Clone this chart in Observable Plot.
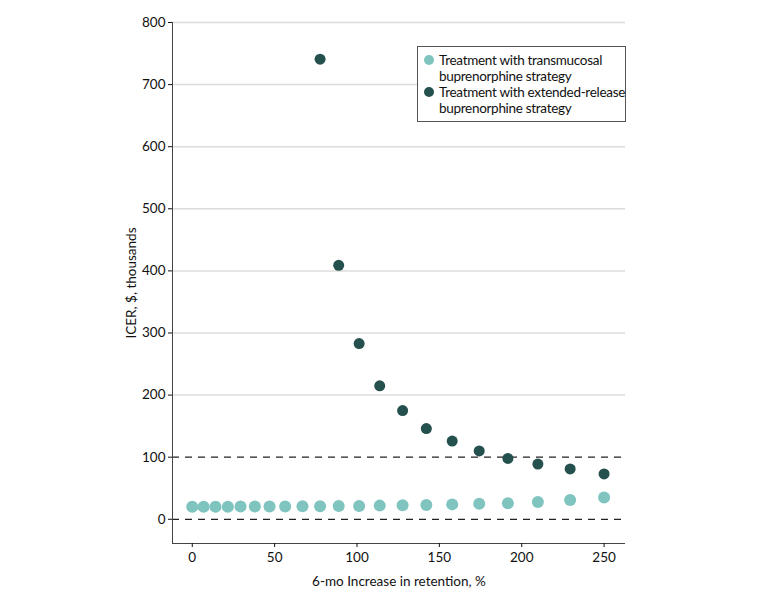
<!DOCTYPE html>
<html>
<head>
<meta charset="utf-8">
<script src="https://cdn.jsdelivr.net/npm/d3@7"></script>
<script src="https://cdn.jsdelivr.net/npm/@observablehq/plot@0.6"></script>
<style>
  html, body { margin: 0; padding: 0; background: #fff; }
  #wrap { position: relative; width: 780px; height: 607px; font-family: Lato, sans-serif; }
  #legend { position: absolute; left: 417px; top: 46px; width: 209px; box-sizing: border-box; white-space: nowrap;
    border: 1px solid #555; background: #fff; padding: 5px 6px 5px 6px; font-size: 13.5px; letter-spacing: -0.3px; color: #111; line-height: 16px; }
  .item { position: relative; padding-left: 15px; }
  .dot { position: absolute; left: 0; top: 3px; width: 10px; height: 10px; border-radius: 50%; }
</style>
</head>
<body>
<div id="wrap"></div>
<script>
const retention = [0, 6.9, 14.1, 21.6, 29.3, 38.0, 46.9, 56.4, 66.9, 77.6, 88.9, 101.3, 113.8, 127.7, 142.1, 157.8, 174.2, 191.6, 209.8, 229.4, 250];
const transmucosal = [20, 20, 20, 20, 20.5, 20.5, 20.5, 20.5, 21, 21, 21.5, 21.5, 22, 22.5, 23, 24, 25, 26, 28, 31, 35];
const extendedX = [77.6, 88.9, 101.3, 113.8, 127.7, 142.1, 157.8, 174.2, 191.6, 209.8, 229.4, 250];
const extended = [741, 409, 283, 215, 175, 146, 126, 110, 98, 89, 81, 73];
const yTicks = [0, 100, 200, 300, 400, 500, 600, 700, 800];
const xTicks = [0, 50, 100, 150, 200, 250];
const seriesNames = ["Treatment with transmucosal buprenorphine strategy", "Treatment with extended-release buprenorphine strategy"];
const colors = ["#7fc4bf", "#24504d"];

const tData = retention.map((x, i) => ({x, y: transmucosal[i]}));
const eData = extendedX.map((x, i) => ({x, y: extended[i]}));

const chart = Plot.plot({
  width: 780,
  height: 607,
  marginLeft: 172,
  marginRight: 155,
  marginTop: 22,
  marginBottom: 64,
  style: {fontFamily: "Lato, sans-serif", fontSize: "13.5px", color: "#111", background: "transparent"},
  x: {domain: [-12, 263]},
  y: {domain: [-39, 800]},
  marks: [
    Plot.ruleY(yTicks.filter(d => d >= 200), {stroke: "#dcdcdc", strokeWidth: 1.5}),
    Plot.ruleY([0, 100], {stroke: "#222", strokeDasharray: "7,6", strokeWidth: 1.2}),
    Plot.ruleX([-12], {stroke: "#444"}),
    Plot.ruleY([-39], {stroke: "#444"}),
    Plot.axisY({ticks: yTicks, tickSize: 4, tickPadding: 3, label: "ICER, $, thousands", labelAnchor: "center", labelArrow: "none", labelOffset: 46, fontSize: 13.5}),
    Plot.axisX({ticks: xTicks, tickSize: 4, tickPadding: 5, label: "6-mo Increase in retention, %", labelAnchor: "center", labelArrow: "none", labelOffset: 42, fontSize: 13.5}),
    Plot.dot(tData, {x: "x", y: "y", r: 6, fill: colors[0], stroke: "none"}),
    Plot.dot(eData, {x: "x", y: "y", r: 5.5, fill: colors[1], stroke: "none"})
  ]
});

const wrap = document.getElementById("wrap");
wrap.appendChild(chart);
const legend = document.createElement("div");
legend.id = "legend";
legend.innerHTML = seriesNames.map((n, i) => {
  const parts = n.split(" buprenorphine");
  return `<div class="item"><span class="dot" style="background:${colors[i]}"></span>${parts[0]}<br>buprenorphine${parts[1]}</div>`;
}).join("");
wrap.appendChild(legend);
</script>
</body>
</html>
